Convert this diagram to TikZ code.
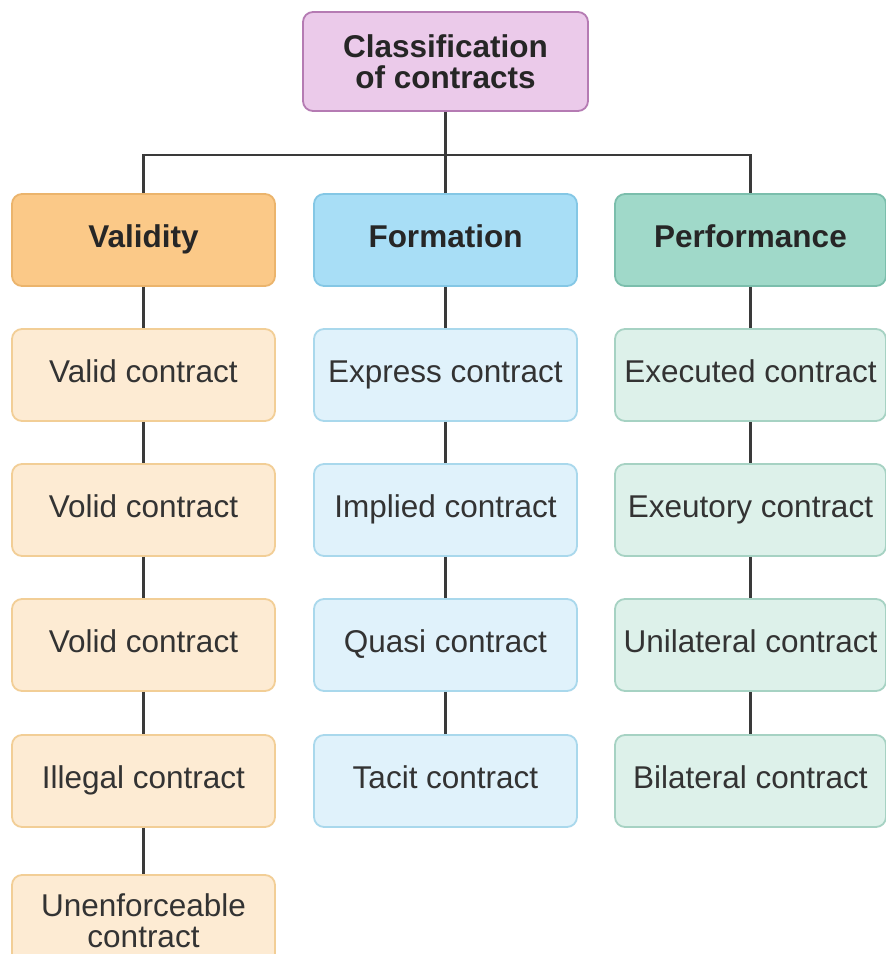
\documentclass[tikz,border=0pt]{standalone}
\usepackage{fontspec}
\setmainfont{Liberation Sans}
\definecolor{rootF}{HTML}{EBCAEA}\definecolor{rootD}{HTML}{B57BB3}
\definecolor{valF}{HTML}{FBC988}\definecolor{valD}{HTML}{EBB46C}
\definecolor{valcF}{HTML}{FDEBD3}\definecolor{valcD}{HTML}{F2CE96}
\definecolor{forF}{HTML}{A8DEF6}\definecolor{forD}{HTML}{84C7E5}
\definecolor{forcF}{HTML}{E0F2FB}\definecolor{forcD}{HTML}{A9D8EC}
\definecolor{perF}{HTML}{A0D9C9}\definecolor{perD}{HTML}{7BBEAC}
\definecolor{percF}{HTML}{DDF1EA}\definecolor{percD}{HTML}{A6D2C3}
\definecolor{txt}{HTML}{333333}\definecolor{wire}{HTML}{3A3A3A}
\begin{document}
\begin{tikzpicture}[x=1pt,y=-1pt,
  box/.style={draw,line width=1.8pt,rounded corners=10pt,minimum width=263pt,minimum height=92pt,inner sep=0pt,align=center,text=txt,font=\fontsize{31.5}{31}\selectfont},
  hdr/.style={box,font=\fontsize{31.5}{31}\selectfont\bfseries,text=black!85},
  one/.style={text height=22pt,text depth=8pt},
  wirestyle/.style={draw=wire,line width=2.6pt}]
\useasboundingbox (0,0) rectangle (886,954);
\fill[white] (0,0) rectangle (886,954);
% root
\node[hdr,fill=rootF,draw=rootD,minimum width=285pt,minimum height=99pt] (root) at (445.5,61.5) {Classification\\of contracts};
% headers
\node[hdr,one,fill=valF,draw=valD] (val) at (143.5,240) {Validity};
\node[hdr,one,fill=forF,draw=forD] (for) at (445.5,240) {Formation};
\node[hdr,one,fill=perF,draw=perD,minimum width=271pt] (per) at (750.5,240) {Performance};
% validity column
\node[box,one,fill=valcF,draw=valcD] (v1) at (143.5,375) {Valid contract};
\node[box,one,fill=valcF,draw=valcD] (v2) at (143.5,510) {Volid contract};
\node[box,one,fill=valcF,draw=valcD] (v3) at (143.5,645) {Volid contract};
\node[box,one,fill=valcF,draw=valcD] (v4) at (143.5,781) {Illegal contract};
\node[box,fill=valcF,draw=valcD] (v5) at (143.5,921) {Unenforceable\\contract};
% formation column
\node[box,one,fill=forcF,draw=forcD] (f1) at (445.5,375) {Express contract};
\node[box,one,fill=forcF,draw=forcD] (f2) at (445.5,510) {Implied contract};
\node[box,one,fill=forcF,draw=forcD] (f3) at (445.5,645) {Quasi contract};
\node[box,one,fill=forcF,draw=forcD] (f4) at (445.5,781) {Tacit contract};
% performance column
\node[box,one,fill=percF,draw=percD,minimum width=271pt] (p1) at (750.5,375) {Executed contract};
\node[box,one,fill=percF,draw=percD,minimum width=271pt] (p2) at (750.5,510) {Exeutory contract};
\node[box,one,fill=percF,draw=percD,minimum width=271pt] (p3) at (750.5,645) {Unilateral contract};
\node[box,one,fill=percF,draw=percD,minimum width=271pt] (p4) at (750.5,781) {Bilateral contract};
% connectors
\coordinate (bus) at (445.5,155);
\draw[wirestyle] (root.south) -- (bus);
\draw[wirestyle] (val.north) -- (val.north |- bus) -- (per.north |- bus) -- (per.north);
\draw[wirestyle] (bus) -- (for.north);
\draw[wirestyle] (val) -- (v1); \draw[wirestyle] (v1) -- (v2); \draw[wirestyle] (v2) -- (v3);
\draw[wirestyle] (v3) -- (v4); \draw[wirestyle] (v4) -- (v5);
\draw[wirestyle] (for) -- (f1); \draw[wirestyle] (f1) -- (f2); \draw[wirestyle] (f2) -- (f3); \draw[wirestyle] (f3) -- (f4);
\draw[wirestyle] (per) -- (p1); \draw[wirestyle] (p1) -- (p2); \draw[wirestyle] (p2) -- (p3); \draw[wirestyle] (p3) -- (p4);
\end{tikzpicture}
\end{document}
